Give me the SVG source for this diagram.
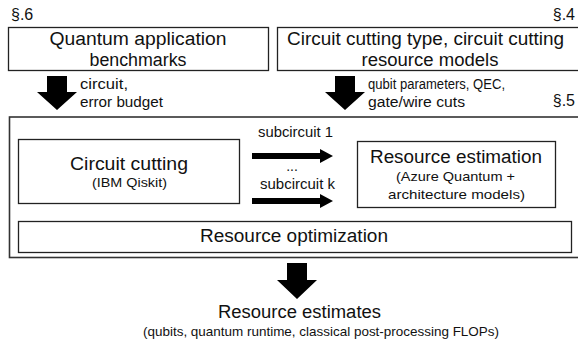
<svg xmlns="http://www.w3.org/2000/svg" width="578" height="348" viewBox="0 0 578 348">
  <defs>
    <style>
      .box { fill: #ffffff; stroke: #222222; stroke-width: 1.3; }
      .frame { fill: none; stroke: #333333; stroke-width: 1.6; }
      text { font-family: "Liberation Sans", Arial, sans-serif; fill: #111111; }
      .title { font-size: 18px; text-anchor: middle; }
      .sub { font-size: 13px; text-anchor: middle; }
      .lbl { font-size: 14px; }
      .sec { font-size: 16px; }
      .arrow { fill: #000000; }
    </style>
  </defs>
  <rect width="578" height="348" fill="#ffffff"/>

  <!-- section markers -->
  <text class="sec" x="11" y="20">§.6</text>
  <text class="sec" x="575" y="20" text-anchor="end">§.4</text>
  <text class="sec" x="575" y="106" text-anchor="end">§.5</text>

  <g id="benchmarks">
    <rect class="box" x="8.5" y="27.5" width="260" height="43"/>
    <text class="title" x="138" y="45" textLength="177" lengthAdjust="spacingAndGlyphs">Quantum application</text>
    <text class="title" x="138" y="66" textLength="97" lengthAdjust="spacingAndGlyphs">benchmarks</text>
  </g>

  <g id="cutting-models">
    <rect class="box" x="277.5" y="27.5" width="310" height="43"/>
    <text class="title" x="425.5" y="45" textLength="277" lengthAdjust="spacingAndGlyphs">Circuit cutting type, circuit cutting</text>
    <text class="title" x="430" y="66" textLength="137" lengthAdjust="spacingAndGlyphs">resource models</text>
  </g>

  <g id="pipeline">
    <rect class="frame" x="9.5" y="117" width="580" height="140.5"/>
  </g>

  <g id="circuit-cutting">
    <rect class="box" x="18.5" y="139.5" width="221" height="64"/>
    <text class="title" x="129" y="170" textLength="118" lengthAdjust="spacingAndGlyphs">Circuit cutting</text>
    <text class="sub" x="129.5" y="187" textLength="75" lengthAdjust="spacingAndGlyphs">(IBM Qiskit)</text>
  </g>

  <g id="resource-estimation">
    <rect class="box" x="357.5" y="141.5" width="198" height="66"/>
    <text class="title" x="456" y="163" textLength="172" lengthAdjust="spacingAndGlyphs">Resource estimation</text>
    <text class="sub" x="455.5" y="181" textLength="119" lengthAdjust="spacingAndGlyphs">(Azure Quantum +</text>
    <text class="sub" x="456.5" y="199" textLength="137" lengthAdjust="spacingAndGlyphs">architecture models)</text>
  </g>

  <g id="resource-optimization">
    <rect class="box" x="18.5" y="221.5" width="553" height="31"/>
    <text class="title" x="294" y="242" textLength="188" lengthAdjust="spacingAndGlyphs">Resource optimization</text>
  </g>

  <g id="results">
    <text class="title" x="299.5" y="318" textLength="163" lengthAdjust="spacingAndGlyphs">Resource estimates</text>
    <text class="sub" x="321" y="336" textLength="356" lengthAdjust="spacingAndGlyphs">(qubits, quantum runtime, classical post-processing FLOPs)</text>
  </g>

  <g id="connectors">
    <!-- inputs into the pipeline -->
    <polygon class="arrow" points="47,76 67,76 67,92 77,92 57,110 37,92 47,92"/>
    <text class="lbl" x="80" y="89" textLength="48" lengthAdjust="spacingAndGlyphs">circuit,</text>
    <text class="lbl" x="80" y="107" textLength="83" lengthAdjust="spacingAndGlyphs">error budget</text>

    <polygon class="arrow" points="335,76 355,76 355,92 365,92 345,110 325,92 335,92"/>
    <text class="lbl" x="368" y="89" textLength="137" lengthAdjust="spacingAndGlyphs">qubit parameters, QEC,</text>
    <text class="lbl" x="368" y="107" textLength="97" lengthAdjust="spacingAndGlyphs">gate/wire cuts</text>

    <!-- subcircuits handed to estimation -->
    <polygon class="arrow" points="252,153 320,153 320,149 333,156 320,163 320,159 252,159"/>
    <polygon class="arrow" points="252,198 320,198 320,194 333,201 320,208 320,204 252,204"/>
    <text class="lbl" x="258" y="137" textLength="75" lengthAdjust="spacingAndGlyphs">subcircuit 1</text>
    <text class="lbl" x="292" y="171" text-anchor="middle">...</text>
    <text class="lbl" x="260" y="189" textLength="75" lengthAdjust="spacingAndGlyphs">subcircuit k</text>

    <!-- pipeline output -->
    <polygon class="arrow" points="287,263 307,263 307,280 317,280 297,299 277,280 287,280"/>
  </g>
</svg>
